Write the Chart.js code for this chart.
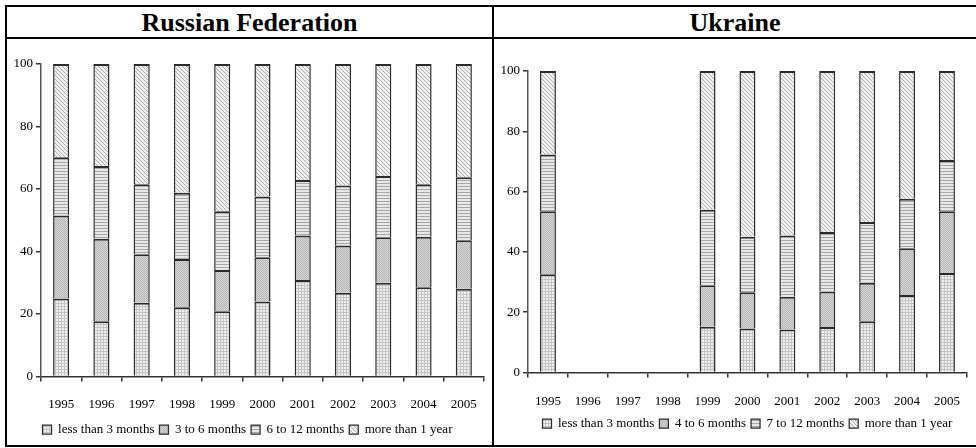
<!DOCTYPE html>
<html>
<head>
<meta charset="utf-8">
<script src="https://cdn.jsdelivr.net/npm/chart.js@4/dist/chart.umd.min.js"></script>
<style>
  html, body { margin: 0; padding: 0; background: #fff; overflow: hidden; }
  #wrap { position: relative; width: 976px; height: 448px; overflow: hidden; }
  .line { position: absolute; background: #000; z-index: 5; }
  .title { position: absolute; top: 8px; height: 30px; line-height: 30px; text-align: center;
           font-family: "Liberation Serif", "Times New Roman", serif; font-weight: bold; font-size: 26px; color: #000; }
  canvas { position: absolute; }
</style>
</head>
<body>
<div id="wrap">
  <div class="line" style="left:5px;top:5px;width:971px;height:2px;"></div>
  <div class="line" style="left:5px;top:37px;width:971px;height:2px;"></div>
  <div class="line" style="left:5px;top:5px;width:2px;height:442px;"></div>
  <div class="line" style="left:492px;top:5px;width:2px;height:442px;"></div>
  <div class="line" style="left:5px;top:445px;width:971px;height:2px;"></div>
  <div class="title" style="left:7px;width:485px;">Russian Federation</div>
  <div class="title" style="left:494px;width:482px;">Ukraine</div>
  <canvas id="ru" width="485" height="420" style="left:7px;top:39px;"></canvas>
  <canvas id="ua" width="482" height="420" style="left:494px;top:39px;"></canvas>
</div>
<script>
// ---------- data ----------
const years = ['1995','1996','1997','1998','1999','2000','2001','2002','2003','2004','2005'];

const ruLabels = ['less than 3 months', '3 to 6 months', '6 to 12 months', 'more than 1 year'];
const ruLess3  = [25.0, 17.7, 23.6, 22.2, 20.9, 24.0, 30.9, 26.8, 30.0, 28.6, 28.1];
const ru3to6   = [26.5, 26.4, 15.5, 15.4, 13.2, 14.2, 14.2, 15.1, 14.6, 16.1, 15.5];
const ru6to12  = [18.7, 23.3, 22.4, 21.2, 18.8, 19.4, 17.8, 19.2, 19.6, 16.8, 20.2];
const ruMore1  = [29.8, 32.6, 38.5, 41.2, 47.1, 42.4, 37.1, 38.9, 35.8, 38.5, 36.2];

const uaLabels = ['less than 3 months', '4 to 6 months', '7 to 12 months', 'more than 1 year'];
const uaLess3  = [32.6, null, null, null, 15.2, 14.6, 14.3, 15.1, 17.0, 25.7, 33.0];
const ua4to6   = [20.9, null, null, null, 13.7, 12.0, 10.8, 11.8, 12.8, 15.5, 20.5];
const ua7to12  = [18.8, null, null, null, 25.1, 18.4, 20.3, 19.7, 20.1, 16.4, 17.0];
const uaMore1  = [27.7, null, null, null, 46.0, 55.0, 54.6, 53.4, 50.1, 42.4, 29.5];

const yTicks = [0, 20, 40, 60, 80, 100];

// ---------- patterns ----------
function tile(w, h, bg, draw) {
  const c = document.createElement('canvas');
  c.width = w; c.height = h;
  const g = c.getContext('2d');
  g.fillStyle = bg; g.fillRect(0, 0, w, h);
  draw(g);
  return document.createElement('canvas').getContext('2d').createPattern(c, 'repeat');
}
const patDots = tile(3, 3, '#f0f0f0', g => {
  g.fillStyle = '#c4c4c4';
  g.fillRect(0, 0, 3, 1);
  g.fillRect(0, 0, 1, 3);
});
const patCross = tile(2, 2, '#d8d8d8', g => {
  g.fillStyle = '#b4b4b4';
  g.fillRect(0, 0, 1, 1);
  g.fillRect(1, 1, 1, 1);
});
const patHoriz = tile(2, 3, '#e8e8e8', g => {
  g.fillStyle = '#a6a6a6';
  g.fillRect(0, 0, 2, 1);
});
const patDiag = tile(4, 4, '#efefef', g => {
  g.fillStyle = '#b0b0b0';
  for (let i = 0; i < 4; i++) g.fillRect(i, i, 1, 1);
});
const fills = [patDots, patCross, patHoriz, patDiag];

// ---------- chart factory ----------
const FONT = { family: '"Liberation Serif", "Times New Roman", serif', size: 13 };

function makeChart(id, labels, series, opt) {
  const datasets = series.map((d, i) => ({
    label: labels[i],
    data: d,
    backgroundColor: fills[i],
    borderColor: '#2a2a2a',
    borderWidth: { top: 2, left: 1.5, right: 1.5, bottom: 0 },
    borderSkipped: false,
    barPercentage: 0.4,
    categoryPercentage: 1.0
  }));
  return new Chart(document.getElementById(id), {
    type: 'bar',
    data: { labels: years, datasets },
    options: {
      responsive: false,
      animation: false,
      devicePixelRatio: 1,
      layout: { padding: opt.padding },
      plugins: {
        tooltip: { enabled: false },
        legend: {
          position: 'bottom',
          fullSize: opt.legendFull,
          labels: {
            font: FONT, color: '#000', boxWidth: 9, boxHeight: 9, padding: 5
          }
        }
      },
      scales: {
        x: {
          stacked: true,
          afterFit: s => { s.height = opt.xHeight; },
          grid: { offset: true, drawOnChartArea: false, tickLength: 5, color: '#333', lineWidth: 1.5 },
          border: { color: '#333', width: 1.5 },
          ticks: { font: FONT, color: '#000', padding: opt.xPad, maxRotation: 0, autoSkip: false }
        },
        y: {
          stacked: true,
          min: 0, max: 100,
          afterFit: s => { s.width = 34; },
          afterBuildTicks: s => { s.ticks = yTicks.map(v => ({ value: v })); },
          grid: { drawOnChartArea: false, tickLength: 5, color: '#333', lineWidth: 1.5 },
          border: { color: '#555', width: 1.5 },
          ticks: { font: FONT, color: '#000', padding: 3 }
        }
      }
    }
  });
}

function drawAll() {
  makeChart('ru', ruLabels, [ruLess3, ru3to6, ru6to12, ruMore1],
    { padding: { top: 25, right: 4, left: 0, bottom: 13 }, xHeight: 41.5, legendFull: true, xPad: 15 });
  makeChart('ua', uaLabels, [uaLess3, ua4to6, ua7to12, uaMore1],
    { padding: { top: 32, right: 1, left: 0, bottom: 19 }, xHeight: 39.5, legendFull: false, xPad: 16 });
}

Promise.all([
  document.fonts.load('13px "Liberation Serif"'),
  document.fonts.load('bold 26px "Liberation Serif"')
]).then(drawAll, drawAll);
</script>
</body>
</html>
